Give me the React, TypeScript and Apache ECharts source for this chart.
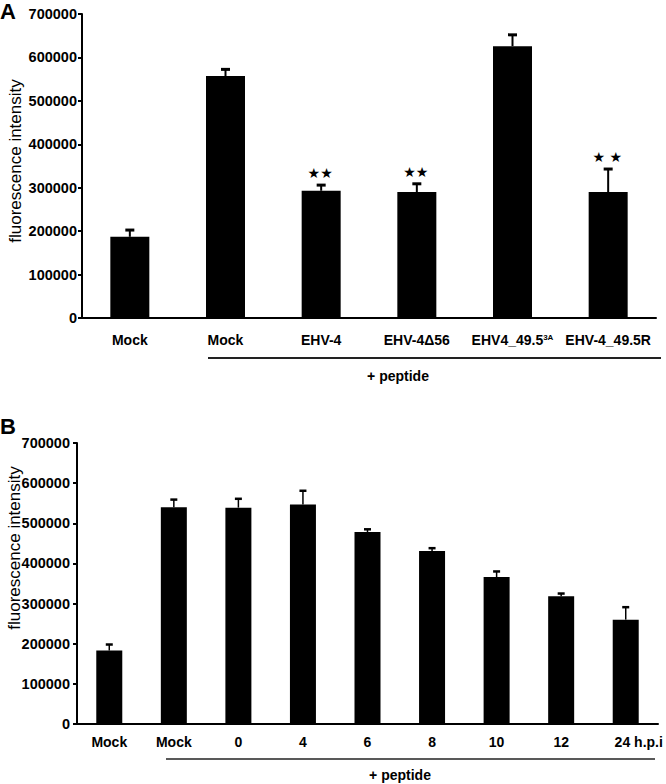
import React, { useEffect, useRef } from "react";
import * as echarts from "echarts";

// Panel A
const A_CATEGORIES = ["Mock", "Mock", "EHV-4", "EHV-4Δ56", "EHV4_49.5", "EHV-4_49.5R"];
const A_SUPERSCRIPT = ["", "", "", "", "3A", ""];
const A_VALUES = [187000, 557000, 293000, 290000, 626000, 290000];
const A_ERRORS = [15500, 15500, 13000, 19000, 26000, 53000];
const A_STARS = ["", "", "★★", "★★", "", "★ ★"];

// Panel B
const B_CATEGORIES = ["Mock", "Mock", "0", "4", "6", "8", "10", "12", "24"];
const B_LAST_SUFFIX = "h.p.i";
const B_VALUES = [183000, 540000, 539000, 547000, 478000, 431000, 366000, 318000, 260000];
const B_ERRORS = [15000, 19000, 22000, 34000, 7000, 7000, 14000, 7000, 31000];

const Y_MIN = 0;
const Y_MAX = 700000;
const Y_INTERVAL = 100000;
const Y_NAME = "fluorescence intensity";
const GROUP_LABEL = "+ peptide";

const FONT = "'Liberation Sans', Arial, Helvetica, sans-serif";

function errorRenderer(capHalf: number, stemW: number, capW: number, stars: string[] | null) {
  return (params: any, api: any) => {
    const i = api.value(0);
    const v = api.value(1);
    const e = api.value(2);
    const base = api.coord([i, v]);
    const top = api.coord([i, v + e]);
    const children: any[] = [
      {
        type: "line",
        shape: { x1: base[0], y1: base[1], x2: top[0], y2: top[1] },
        style: { stroke: "#000", lineWidth: stemW },
      },
      {
        type: "line",
        shape: { x1: top[0] - capHalf, y1: top[1], x2: top[0] + capHalf, y2: top[1] },
        style: { stroke: "#000", lineWidth: capW },
      },
    ];
    if (stars && stars[params.dataIndex]) {
      children.push({
        type: "text",
        x: top[0] - 1,
        y: top[1] - 12,
        style: {
          text: stars[params.dataIndex],
          fill: "#000",
          font: "14px 'DejaVu Sans', sans-serif",
          align: "center",
          verticalAlign: "middle",
        },
      });
    }
    return { type: "group", children };
  };
}

const yAxisCommon = (margin: number) => ({
  type: "value" as const,
  min: Y_MIN,
  max: Y_MAX,
  interval: Y_INTERVAL,
  splitLine: { show: false },
  axisLine: { show: true, lineStyle: { color: "#000", width: 2 } },
  axisTick: { show: true, length: 4, lineStyle: { color: "#000", width: 2 } },
  axisLabel: {
    margin,
    color: "#000",
    fontFamily: FONT,
    fontSize: 14.5,
    fontWeight: "bold" as const,
    formatter: (v: number) => String(v),
  },
});

export default function App() {
  const ref = useRef<HTMLDivElement>(null);
  useEffect(() => {
    if (!ref.current) return;
    const chart = echarts.init(ref.current, undefined, { renderer: "svg" });
    const option: any = {
      animation: false,
      backgroundColor: "#fff",
      grid: [
        { left: 82, top: 14, width: 574, height: 304 },
        { left: 77, top: 443, width: 581, height: 281 },
      ],
      xAxis: [
        {
          type: "category",
          gridIndex: 0,
          data: A_CATEGORIES,
          axisLine: { lineStyle: { color: "#000", width: 2 } },
          axisTick: { length: 5, lineStyle: { color: "#000", width: 2 } },
          axisLabel: {
            interval: 0,
            margin: 15,
            color: "#000",
            formatter: (v: string, i: number) =>
              A_SUPERSCRIPT[i] ? `{b|${v}}{s|${A_SUPERSCRIPT[i]}}` : `{b|${v}}`,
            rich: {
              b: { fontFamily: FONT, fontSize: 14, fontWeight: "bold", color: "#000" },
              s: { fontFamily: FONT, fontSize: 8, fontWeight: "bold", color: "#000", verticalAlign: "top", padding: [0, 0, 6, 0] },
            },
          },
        },
        {
          type: "category",
          gridIndex: 1,
          data: B_CATEGORIES,
          axisLine: { lineStyle: { color: "#000", width: 2 } },
          axisTick: { length: 5, lineStyle: { color: "#000", width: 2 } },
          axisLabel: {
            interval: 0,
            margin: 11,
            color: "#000",
            formatter: (v: string, i: number) =>
              i === B_CATEGORIES.length - 1 ? `{last|${v} ${B_LAST_SUFFIX}}` : `{b|${v}}`,
            rich: {
              b: { fontFamily: FONT, fontSize: 14, fontWeight: "bold", color: "#000" },
              last: { fontFamily: FONT, fontSize: 14, fontWeight: "bold", color: "#000", padding: [0, 0, 0, 26] },
            },
          },
        },
      ],
      yAxis: [
        { ...yAxisCommon(5), gridIndex: 0 },
        { ...yAxisCommon(7), gridIndex: 1 },
      ],
      series: [
        {
          type: "bar",
          xAxisIndex: 0,
          yAxisIndex: 0,
          data: A_VALUES,
          barWidth: 39,
          itemStyle: { color: "#000" },
        },
        {
          type: "custom",
          xAxisIndex: 0,
          yAxisIndex: 0,
          data: A_VALUES.map((v, i) => [i, v, A_ERRORS[i]]),
          encode: { x: 0, y: 1 },
          renderItem: errorRenderer(4.5, 2, 3, A_STARS),
          z: 3,
        },
        {
          type: "bar",
          xAxisIndex: 1,
          yAxisIndex: 1,
          data: B_VALUES,
          barWidth: 26,
          itemStyle: { color: "#000" },
        },
        {
          type: "custom",
          xAxisIndex: 1,
          yAxisIndex: 1,
          data: B_VALUES.map((v, i) => [i, v, B_ERRORS[i]]),
          encode: { x: 0, y: 1 },
          renderItem: errorRenderer(3.5, 1.5, 2.5, null),
          z: 3,
        },
      ],
      graphic: [
        {
          type: "text",
          left: 0,
          top: 0,
          style: { text: "A", font: `bold 22px ${FONT}`, fill: "#000" },
        },
        {
          type: "text",
          left: 0,
          top: 415,
          style: { text: "B", font: `bold 22px ${FONT}`, fill: "#000" },
        },
        {
          type: "text",
          x: 15,
          y: 161,
          rotation: Math.PI / 2,
          style: { text: Y_NAME, font: `17px ${FONT}`, fill: "#000", align: "center", verticalAlign: "middle" },
        },
        {
          type: "text",
          x: 14,
          y: 548,
          rotation: Math.PI / 2,
          style: { text: Y_NAME, font: `17px ${FONT}`, fill: "#000", align: "center", verticalAlign: "middle" },
        },
        {
          type: "line",
          shape: { x1: 208, y1: 358, x2: 661, y2: 358 },
          style: { stroke: "#222", lineWidth: 2 },
        },
        {
          type: "text",
          x: 398,
          y: 376,
          style: { text: GROUP_LABEL, font: `bold 14px ${FONT}`, fill: "#000", align: "center", verticalAlign: "middle" },
        },
        {
          type: "line",
          shape: { x1: 166, y1: 759, x2: 655, y2: 759 },
          style: { stroke: "#222", lineWidth: 1.5 },
        },
        {
          type: "text",
          x: 400,
          y: 775,
          style: { text: GROUP_LABEL, font: `bold 14px ${FONT}`, fill: "#000", align: "center", verticalAlign: "middle" },
        },
      ],
    };
    chart.setOption(option);
    return () => chart.dispose();
  }, []);
  return (
    <div
      ref={ref}
      style={{ position: "absolute", left: 0, top: 0, width: 666, height: 784, background: "#fff" }}
    />
  );
}
